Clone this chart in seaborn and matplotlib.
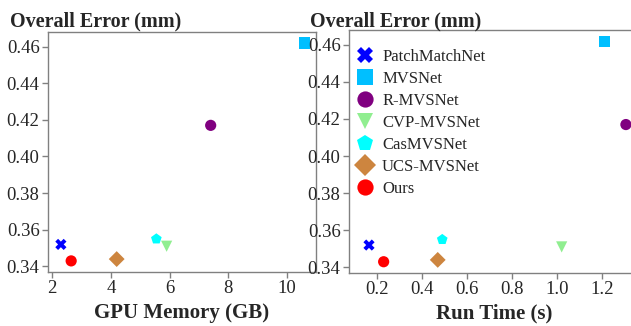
import pandas as pd
import matplotlib.pyplot as plt
import seaborn as sns

methods = ['PatchMatchNet', 'MVSNet', 'R-MVSNet', 'CVP-MVSNet', 'CasMVSNet', 'UCS-MVSNet', 'Ours']
gpu_memory = [2.3, 10.6, 7.4, 5.9, 5.55, 4.2, 2.65]
run_time = [0.165, 1.21, 1.305, 1.02, 0.49, 0.47, 0.23]
overall_error = [0.352, 0.462, 0.417, 0.351, 0.355, 0.344, 0.343]

colors = ['#0000FF', '#00BFFF', '#800080', '#90EE90', '#00FFFF', '#CD853F', '#FF0000']
markers = ['X', 's', 'o', 'v', 'p', 'D', 'o']

data = pd.DataFrame({'method': methods, 'memory': gpu_memory,
                     'time': run_time, 'error': overall_error})

sns.set_style('white')
plt.rcParams['font.family'] = ['Liberation Serif', 'DejaVu Serif']
plt.rcParams['font.size'] = 12

fig = plt.figure(figsize=(6.31, 3.26), dpi=100)
ax1 = fig.add_axes([0.076, 0.166, 0.425, 0.736])
ax2 = fig.add_axes([0.553, 0.163, 0.46, 0.745])

pal = dict(zip(methods, colors))
mk = dict(zip(methods, markers))

sns.scatterplot(data=data, x='memory', y='error', hue='method', style='method',
                palette=pal, markers=mk, s=65, linewidth=0, ax=ax1, legend=False)
sns.scatterplot(data=data, x='time', y='error', hue='method', style='method',
                palette=pal, markers=mk, s=65, linewidth=0, ax=ax2)

ax1.set_xlim(1.86, 10.99)
ax1.set_xticks([2, 4, 6, 8, 10])
ax2.set_xlim(0.076, 1.364)
ax2.set_xticks([0.2, 0.4, 0.6, 0.8, 1.0, 1.2])
ax2.set_xticklabels(['0.2', '0.4', '0.6', '0.8', '1.0', '1.2'])

for ax, xl in [(ax1, 'GPU Memory (GB)'), (ax2, 'Run Time (s)')]:
    ax.set_ylim(0.337, 0.468)
    ax.set_yticks([0.34, 0.36, 0.38, 0.40, 0.42, 0.44, 0.46])
    ax.set_yticklabels(['0.34', '0.36', '0.38', '0.40', '0.42', '0.44', '0.46'])
    ax.set_xlabel(xl, fontsize=15, fontweight='bold', labelpad=4)
    ax.set_ylabel('')
    for sp in ax.spines.values():
        sp.set_color('#808080')
        sp.set_linewidth(1)
    ax.tick_params(axis='both', which='both', direction='out', length=4, width=1,
                   color='#808080', labelsize=13.5, pad=2, bottom=True, left=True)

fig.text(0.016, 0.935, 'Overall Error (mm)', fontsize=14.5, fontweight='bold', va='center')
fig.text(0.491, 0.935, 'Overall Error (mm)', fontsize=14.5, fontweight='bold', va='center')

leg = ax2.legend(loc='upper left', frameon=False, fontsize=12, markerscale=1.45,
                 handlelength=1.0, handletextpad=0.5, labelspacing=0.36,
                 borderaxespad=0.0, bbox_to_anchor=(0.005, 0.95))

plt.savefig('out.png', dpi=100)
